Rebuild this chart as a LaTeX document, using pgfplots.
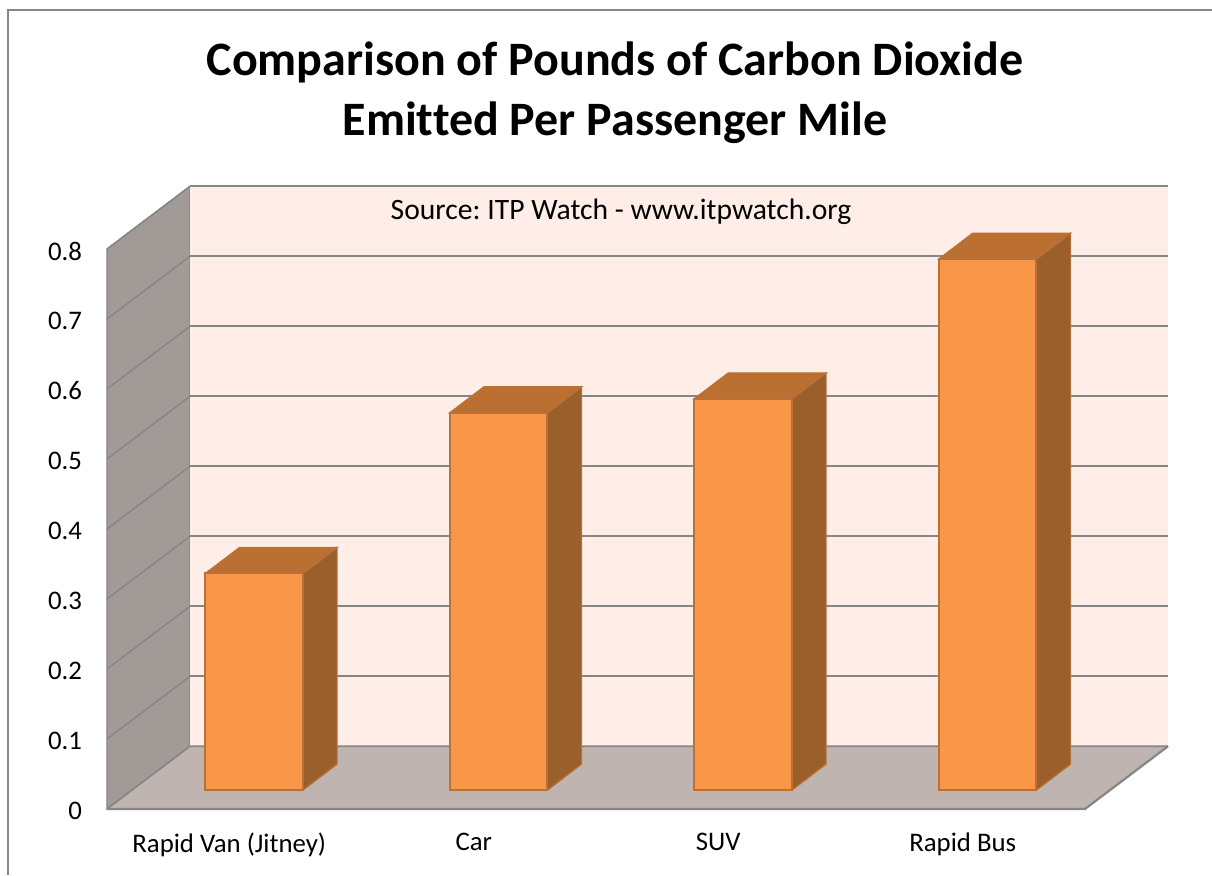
\documentclass[border=0pt]{standalone}
\usepackage{fontspec}
\setmainfont[Ligatures=NoCommon]{Carlito}
\usepackage{pgfplots}
\pgfplotsset{compat=1.18}

% 1 px of the reference = 0.5pt
\definecolor{wallc}{HTML}{A29A96}
\definecolor{backc}{HTML}{FEEEE7}
\definecolor{floorc}{HTML}{BFB4AF}
\definecolor{linec}{HTML}{868686}
\definecolor{barc}{HTML}{FA9648}
\definecolor{baredge}{HTML}{B9713A}
\definecolor{sidec}{HTML}{9B5F2B}
\definecolor{topc}{HTML}{BB7031}

\pgfplotsset{
    panel/.style={
        scale only axis,
        width=489pt,
        height=280pt,
        anchor=south west,
        xmin=-0.5, xmax=3.5,
        ymin=0, ymax=0.8,
        clip=false,
        major tick length=0pt,
        axis line style={draw=none},
    },
}

\begin{document}
\begin{tikzpicture}
\path[use as bounding box] (0,0) rectangle (606pt,437.5pt);
\draw[linec, line width=1pt] (4pt,0) -- (4pt,432.5pt) -- (606pt,432.5pt);

\node[font=\bfseries\fontsize{24}{24}\selectfont] at (307.5pt,406.5pt) {Comparison of Pounds of Carbon Dioxide};
\node[font=\bfseries\fontsize{24}{24}\selectfont] at (307.5pt,376pt) {Emitted Per Passenger Mile};

% walls, floor, gridlines, tick labels: front plane of the box
\begin{axis}[
    panel,
    at={(53.5pt,33pt)},
    xtick={0,1,2,3},
    xticklabels={Rapid Van (Jitney),Car,SUV,Rapid Bus},
    ytick={0,0.1,0.2,0.3,0.4,0.5,0.6,0.7,0.8},
    yticklabels={0,0.1,0.2,0.3,0.4,0.5,0.6,0.7,0.8},
    tick label style={font=\fontsize{13.4}{15}\selectfont},
    x tick label style={yshift=-8.5pt},
    y tick label style={xshift=-9pt, yshift=-1pt},
]
\addplot[fill=wallc, draw=linec, line width=0.7pt] coordinates {(-0.5,0) (-0.5,0.8) (-0.1605,0.8896) (-0.1605,0.0896)} --cycle;
\addplot[fill=backc, draw=none] coordinates {(-0.1605,0.0896) (3.8395,0.0896) (3.8395,0.8896) (-0.1605,0.8896)} --cycle;
\addplot[fill=floorc, draw=none] coordinates {(-0.5,0) (3.5,0) (3.8395,0.0896) (-0.1605,0.0896)} --cycle;
\addplot[linec, line width=1.1pt] coordinates {(-0.5,0) (3.5,0) (3.8395,0.0896)};
\addplot[linec, line width=0.8pt] coordinates {(-0.5,0) (-0.1605,0.0896) (3.8395,0.0896)};
\addplot[linec, line width=0.7pt] coordinates {(-0.5,0.1) (-0.1605,0.1896)};
\addplot[linec, line width=0.7pt] coordinates {(-0.5,0.2) (-0.1605,0.2896)};
\addplot[linec, line width=0.7pt] coordinates {(-0.5,0.3) (-0.1605,0.3896)};
\addplot[linec, line width=0.7pt] coordinates {(-0.5,0.4) (-0.1605,0.4896)};
\addplot[linec, line width=0.7pt] coordinates {(-0.5,0.5) (-0.1605,0.5896)};
\addplot[linec, line width=0.7pt] coordinates {(-0.5,0.6) (-0.1605,0.6896)};
\addplot[linec, line width=0.7pt] coordinates {(-0.5,0.7) (-0.1605,0.7896)};
\addplot[linec, line width=0.7pt] coordinates {(-0.5,0.8) (-0.1605,0.8896)};
\addplot[linec, line width=1pt] coordinates {(-0.1605,0.1896) (3.8395,0.1896)};
\addplot[linec, line width=1pt] coordinates {(-0.1605,0.2896) (3.8395,0.2896)};
\addplot[linec, line width=1pt] coordinates {(-0.1605,0.3896) (3.8395,0.3896)};
\addplot[linec, line width=1pt] coordinates {(-0.1605,0.4896) (3.8395,0.4896)};
\addplot[linec, line width=1pt] coordinates {(-0.1605,0.5896) (3.8395,0.5896)};
\addplot[linec, line width=1pt] coordinates {(-0.1605,0.6896) (3.8395,0.6896)};
\addplot[linec, line width=1pt] coordinates {(-0.1605,0.7896) (3.8395,0.7896)};
\addplot[linec, line width=1.1pt] coordinates {(-0.1605,0.8896) (3.8395,0.8896)};
\end{axis}

\node[font=\fontsize{14.8}{14.8}\selectfont] at (310.5pt,331.5pt) {Source:\kern-1pt{} ITP Watch - www.itpwatch.org};

% bars stand a little behind the front plane
\begin{axis}[
    panel,
    height=279.5pt,
    at={(66pt,42.5pt)},
    xtick=\empty,
    ytick=\empty,
]
% side faces
\addplot[fill=sidec, draw=baredge, line width=0.6pt] coordinates {(0.2,0) (0.339,0.037) (0.339,0.347) (0.2,0.31)} --cycle;
\addplot[fill=sidec, draw=baredge, line width=0.6pt] coordinates {(1.2,0) (1.339,0.037) (1.339,0.577) (1.2,0.54)} --cycle;
\addplot[fill=sidec, draw=baredge, line width=0.6pt] coordinates {(2.2,0) (2.339,0.037) (2.339,0.597) (2.2,0.56)} --cycle;
\addplot[fill=sidec, draw=baredge, line width=0.6pt] coordinates {(3.2,0) (3.339,0.037) (3.339,0.797) (3.2,0.76)} --cycle;
% top faces
\addplot[fill=topc, draw=baredge, line width=0.6pt] coordinates {(-0.2,0.31) (-0.061,0.347) (0.339,0.347) (0.2,0.31)} --cycle;
\addplot[fill=topc, draw=baredge, line width=0.6pt] coordinates {(0.8,0.54) (0.939,0.577) (1.339,0.577) (1.2,0.54)} --cycle;
\addplot[fill=topc, draw=baredge, line width=0.6pt] coordinates {(1.8,0.56) (1.939,0.597) (2.339,0.597) (2.2,0.56)} --cycle;
\addplot[fill=topc, draw=baredge, line width=0.6pt] coordinates {(2.8,0.76) (2.939,0.797) (3.339,0.797) (3.2,0.76)} --cycle;
% front faces
\addplot[ybar, bar width=48.75pt, fill=barc, draw=baredge, line width=1pt] coordinates {(0,0.31) (1,0.54) (2,0.56) (3,0.76)};
\end{axis}
\end{tikzpicture}
\end{document}
